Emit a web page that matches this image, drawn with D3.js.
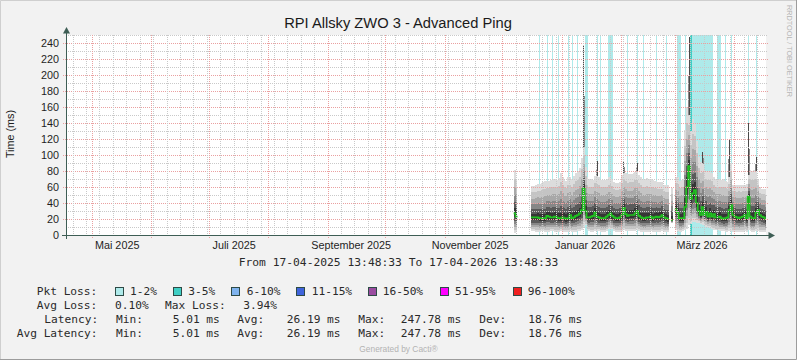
<!DOCTYPE html>
<html><head><meta charset="utf-8">
<script src="https://cdn.jsdelivr.net/npm/d3@7"></script>
<style>body{margin:0;background:#f2f2f2} svg{display:block}</style>
</head><body><svg id="c" width="797" height="360"></svg>
<script>
// ---------------- DATA ----------------
const rangeStart = "2025-04-17T13:48:33Z";
const rangeEnd   = "2026-04-17T13:48:33Z";
const sampleStart = "2025-12-07T00:00:00Z"; // one sample per day
const yTicks = [0,20,40,60,80,100,120,140,160,180,200,220,240];
const xTickLabels = ["Mai 2025","Juli 2025","September 2025","November 2025","Januar 2026","März 2026"];
const xTickDates  = ["2025-05-14","2025-07-14","2025-09-13","2025-11-14","2026-01-13","2026-03-15"];

// median latency (ms) per day
const latMedian = [27,23, null,null,null,null,null,null,null,
 22,22,22,22,21,21,21,21,24,23,22,22,23,22,21,21,22,21,20,21,25,21,22,24,25,27,31,58,30,22,22,23,24,28,
 23,22,21,21,21,23,25,27,24,22,21,21,22,25,34,26,24,25,25,25,27,30,24,22,21,21,22,22,23,21,22,23,22,23,25,22,21,20,
 null,19,null,
 32,28,21,21,21,35,60,86,45,52,56,40,30,25,35,25,29,23,27,23,26,22,22,23,21,20,21,22,31,37,25,23,22,21,22,23,25,21,48,23,21,21,28,31,25,23,22,20];
// upper edge of the smoke (ms)
const latHigh = [81,70, null,null,null,null,null,null,null,
 61,61,62,64,64,65,66,67,68,68,69,70,70,69,71,78,72,70,68,73,72,70,74,78,80,84,96,110,85,72,70,70,69,74,
 74,72,69,69,69,70,72,74,70,66,65,65,66,75,78,78,76,76,76,77,79,79,75,72,70,70,71,70,70,69,68,67,66,66,66,63,62,62,
 null,59,null,
 73,72,68,69,70,131,160,150,130,145,140,118,97,91,89,81,80,80,79,78,72,70,70,70,69,70,68,66,72,90,63,63,62,63,62,63,63,64,75,81,80,81,80,70,60,58,58,57];
// lower edge of the smoke (ms)
const latLow = [3,4, null,null,null,null,null,null,null,
 5,5,4,4,4,5,5,4,4,4,5,5,4,4,4,5,4,4,4,4,5,4,4,4,5,5,6,10,12,6,5,4,4,5,
 5,5,4,4,4,5,8,8,7,5,4,4,4,5,6,5,5,5,5,5,5,6,5,4,4,4,4,4,5,4,4,4,4,4,5,4,4,4,
 null,15,null,
 6,5,4,4,5,6,8,12,14,16,16,15,15,14,13,12,10,10,9,8,6,6,6,5,5,5,4,4,5,5,4,4,4,4,4,4,5,4,6,5,4,4,5,5,4,4,4,4];
// single outlier pings drawn as thin spikes
const peakIndex = [36, 43, 57, 64, 91, 98, 112, 122, 126];
const peakValue = [237, 92, 92, 90, 247.8, 104, 119, 140, 98];
// packet loss periods (sample index, loss %)
const lossIndex = [13,17,20,23,28,30,33,37,38,43,45,49,50,51,59,64,67,74,79,85,86,89,92,93,94,95,96,97,98,99,100,101,102,103,106,107,110,113,122,126];
const lossPct   = [1.2,1.1,1.3,1.2,1.1,1.4,1.2,1.6,1.5,1.2,1.1,1.8,1.9,1.4,1.1,1.3,1.2,1.1,1.2,1.5,1.3,1.4,3.94,1.9,1.8,2.0,1.7,1.9,1.8,1.6,1.7,1.9,1.5,1.4,1.3,1.2,1.1,1.2,1.3,1.1];

const lossBuckets = [
  {label:"1-2%",   max:2,   color:"#aeeaea"},
  {label:"3-5%",   max:5,   color:"#3fcfc4"},
  {label:"6-10%",  max:10,  color:"#7fb3ee"},
  {label:"11-15%", max:15,  color:"#3f64dc"},
  {label:"16-50%", max:50,  color:"#9a4ca0"},
  {label:"51-95%", max:95,  color:"#ff00ff"},
  {label:"96-100%",max:100, color:"#f02020"}
];

// ---------------- CHART ----------------
const svg = d3.select("#c");
const W = 797, H = 360;
const DAY = 86400000;
const t0 = Date.parse(rangeStart), t1 = Date.parse(rangeEnd), s0 = Date.parse(sampleStart);
const x = d3.scaleUtc().domain([t0, t1]).range([66, 766]);
const y = d3.scaleLinear().domain([0, 250]).range([235, 35]);
const tAt = i => Math.min(s0 + i * DAY, t1);

// background & frame
svg.append("rect").attr("width", W).attr("height", H).attr("fill", "#f2f2f2");
svg.append("path").attr("d", `M0.5,${H}V0.5H${W}`).attr("stroke", "#cfcfcf").attr("fill", "none");
svg.append("path").attr("d", `M0,${H-0.5}H${W-0.5}V0`).attr("stroke", "#9c9c9c").attr("fill", "none");

svg.append("rect").attr("x", 66).attr("y", 35).attr("width", 700).attr("height", 200).attr("fill", "#ffffff");

const plot = svg.append("g").attr("shape-rendering", "crispEdges");

// loss background columns (isolated days drawn as thin lines, runs as blocks)
lossIndex.forEach((idx, k) => {
  const b = lossBuckets.find(b => lossPct[k] <= b.max);
  const prev = lossIndex.includes(idx - 1), next = lossIndex.includes(idx + 1);
  const xa = x(tAt(idx)), xb = x(tAt(idx + 1));
  const isolated = !prev && !next;
  plot.append("rect")
    .attr("x", isolated ? Math.round((xa + xb) / 2 - 0.5) : xa)
    .attr("width", isolated ? 1 : xb - xa)
    .attr("y", y(250)).attr("height", y(0) - y(250))
    .attr("fill", b.color);
});

// runs of defined samples
const runs = [];
let cur = null;
latMedian.forEach((v, i) => {
  if (v == null) { cur = null; return; }
  if (!cur) { cur = []; runs.push(cur); }
  cur.push(i);
});
const runPoints = run => run.map(i => ({t: tAt(i), i})).concat([{t: tAt(run[run.length - 1] + 1), i: run[run.length - 1]}]);

// smoke bands (outer -> inner)
const upFrac = [0.12, 0.26, 0.42, 0.60, 0.80, 1.0];
const dnFrac = [0.20, 0.38, 0.55, 0.70, 0.87, 1.0];
const bandColor = ["#353535", "#5a5a5a", "#878787", "#a8a8a8", "#c4c4c4", "#dcdcdc"];
for (let k = 5; k >= 0; k--) {
  const area = d3.area().curve(d3.curveStepAfter)
    .x(d => x(d.t))
    .y0(d => y(latMedian[d.i] - dnFrac[k] * (latMedian[d.i] - latLow[d.i])))
    .y1(d => y(latMedian[d.i] + upFrac[k] * (latHigh[d.i] - latMedian[d.i])));
  runs.forEach(run => {
    plot.append("path").attr("d", area(runPoints(run))).attr("fill", bandColor[k]);
  });
}

// spikes
peakIndex.forEach((idx, k) => {
  const xa = x(tAt(idx)), xb = x(tAt(idx + 1));
  const top = y(Math.min(peakValue[k], 250)), base = y(latHigh[idx]);
  plot.append("rect").attr("x", xa).attr("width", xb - xa)
    .attr("y", top + (base - top) * 0.5).attr("height", (base - top) * 0.5).attr("fill", "#8a8a8a");
  plot.append("rect").attr("x", Math.round((xa + xb) / 2 - 0.5)).attr("width", 1)
    .attr("y", top).attr("height", base - top).attr("fill", "#4a4a4a");
});

// median line
const line = d3.line().curve(d3.curveStepAfter).x(d => x(d.t)).y(d => y(latMedian[d.i]));
runs.forEach(run => {
  svg.append("path").attr("d", line(runPoints(run))).attr("fill", "none")
    .attr("stroke", "#1fc21f").attr("stroke-width", 1.7);
});

// grid
const grid = svg.append("g").attr("shape-rendering", "crispEdges").attr("fill", "none");
const minorY = d3.range(0, 251, 10);
minorY.forEach(v => {
  const major = yTicks.includes(v);
  grid.append("line").attr("x1", major ? 63 : 66).attr("x2", 768)
    .attr("y1", Math.round(y(v)) + 0.5).attr("y2", Math.round(y(v)) + 0.5)
    .attr("stroke", major ? "#eaa0a0" : "#c9c9c9").attr("stroke-dasharray", "1,1");
});
const weeks = d3.utcMonday.range(t0, t1);
const months = d3.utcMonth.range(t0, t1);
weeks.forEach(d => {
  if (months.some(m => +m === +d)) return;
  const px = Math.round(x(d)) + 0.5;
  grid.append("line").attr("x1", px).attr("x2", px).attr("y1", 35).attr("y2", 235)
    .attr("stroke", "#c9c9c9").attr("stroke-dasharray", "1,1");
});
months.forEach(d => {
  const px = Math.round(x(d)) + 0.5;
  grid.append("line").attr("x1", px).attr("x2", px).attr("y1", 35).attr("y2", 238)
    .attr("stroke", "#eaa0a0").attr("stroke-dasharray", "1,1");
});

// axes
const axisColor = "#3e5e55";
svg.append("line").attr("x1", 62).attr("x2", 770).attr("y1", 235.5).attr("y2", 235.5)
  .attr("stroke", axisColor).attr("shape-rendering", "crispEdges");
svg.append("line").attr("x1", 66.5).attr("x2", 66.5).attr("y1", 239).attr("y2", 32)
  .attr("stroke", axisColor).attr("shape-rendering", "crispEdges");
svg.append("path").attr("d", "M63,33.5L70,33.5L66.5,27Z").attr("fill", axisColor);
svg.append("path").attr("d", "M768.5,232L768.5,239L775,235.5Z").attr("fill", axisColor);

// y tick labels
const sans = "'Liberation Sans', Arial, sans-serif";
const mono = "'DejaVu Sans Mono', monospace";
const yAxis = d3.axisLeft(y).tickValues(yTicks).tickSize(0).tickPadding(0).tickFormat(d3.format("d"));
const gy = svg.append("g").attr("transform", "translate(59,0)").call(yAxis);
gy.select(".domain").remove();
gy.selectAll("text").attr("font-family", sans).attr("font-size", "10.8px").attr("fill", "#1e1e1e").attr("dy", "0.36em");

// x tick labels
const xAxis = d3.axisBottom(x).tickValues(xTickDates.map(d => Date.parse(d + "T00:00:00Z")))
  .tickSize(0).tickPadding(0).tickFormat((d, i) => xTickLabels[i]);
const gx = svg.append("g").attr("transform", "translate(0,249)").call(xAxis);
gx.select(".domain").remove();
gx.selectAll("text").attr("font-family", sans).attr("font-size", "10.8px").attr("fill", "#1e1e1e").attr("dy", 0);

// titles
svg.append("text").attr("x", 398).attr("y", 28).attr("text-anchor", "middle")
  .attr("font-family", sans).attr("font-size", "14.7px").attr("fill", "#1a1a1a")
  .text("RPI Allsky ZWO 3 - Advanced Ping");
svg.append("text").attr("transform", "translate(14,134) rotate(-90)").attr("text-anchor", "middle")
  .attr("font-family", sans).attr("font-size", "10.8px").attr("fill", "#1e1e1e").text("Time (ms)");
svg.append("text").attr("transform", "translate(787,5) rotate(90)").attr("text-anchor", "start")
  .attr("font-family", sans).attr("font-size", "7.9px").attr("fill", "#b5b5b5")
  .attr("textLength", 92).attr("lengthAdjust", "spacingAndGlyphs").text("RRDTOOL / TOBI OETIKER");

// legend
const txt = (xx, yy, s) => svg.append("text").attr("x", xx).attr("y", yy)
  .attr("font-family", mono).attr("font-size", "11.2px").attr("fill", "#2a2a2a")
  .style("white-space", "pre").text(s);
svg.append("text").attr("x", 398.5).attr("y", 265.5).attr("text-anchor", "middle")
  .attr("font-family", mono).attr("font-size", "11.3px").attr("fill", "#2a2a2a")
  .text("From 17-04-2025 13:48:33 To 17-04-2026 13:48:33");

txt(36.7, 294.5, "Pkt Loss:");
const boxX = [115, 172.7, 231, 296, 368.3, 440, 512.7];
const labX = [130, 188.3, 246.7, 311.7, 382.7, 455, 527.7];
lossBuckets.forEach((b, k) => {
  svg.append("rect").attr("x", boxX[k] + 0.5).attr("y", 287.5).attr("width", 8).attr("height", 8)
    .attr("fill", b.color).attr("stroke", "#2e4a46").attr("shape-rendering", "crispEdges");
  txt(labX[k], 294.5, b.label);
});
txt(36.7, 308.5, "Avg Loss:");
txt(115, 308.5, "0.10%");
txt(165, 308.5, "Max Loss:");
txt(243.3, 308.5, "3.94%");

const statCols = [
  [116, "Min:"], [172.7, "5.01 ms"], [237.3, "Avg:"], [286.7, "26.19 ms"],
  [358.3, "Max:"], [400.7, "247.78 ms"], [479.3, "Dev:"], [528.3, "18.76 ms"]
];
txt(44.3, 322.5, "Latency:");
statCols.forEach(([xx, s]) => txt(xx, 322.5, s));
txt(16.7, 336.5, "Avg Latency:");
statCols.forEach(([xx, s]) => txt(xx, 336.5, s));

svg.append("text").attr("x", 359.3).attr("y", 351.5)
  .attr("font-family", sans).attr("font-size", "8.4px").attr("fill", "#b2b2b2").text("Generated by Cacti®");
</script></body></html>
